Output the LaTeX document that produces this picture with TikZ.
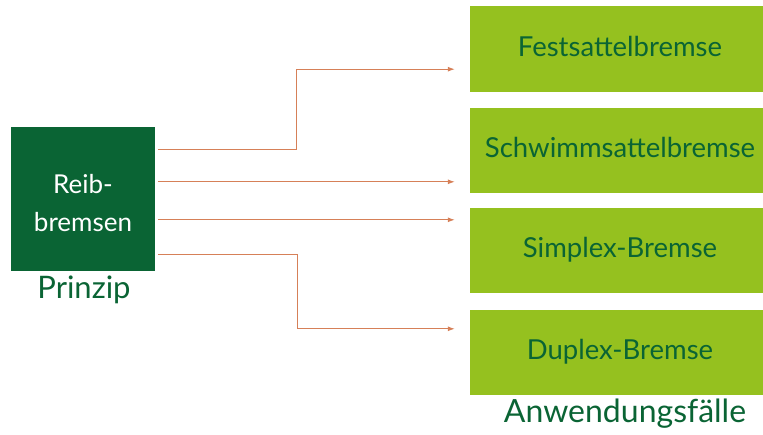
\documentclass[tikz,border=0pt]{standalone}
\usepackage{fontspec}
\setmainfont{Lato}
\usetikzlibrary{arrows.meta,calc}
\definecolor{dgreen}{RGB}{10,100,52}
\definecolor{lime}{RGB}{149,193,31}
\definecolor{arrc}{RGB}{214,128,88}
\tikzset{
  leftbox/.style={fill=dgreen,minimum width=144pt,minimum height=144pt,inner sep=0pt},
  lefttext/.style={text=white,align=center,inner sep=0pt,font=\fontsize{26}{38}\selectfont},
  appbox/.style={fill=lime,text=dgreen,minimum width=300pt,inner sep=0pt,text height=20pt,text depth=6pt,font=\fontsize{27.5}{30}\selectfont},
  caption/.style={text=dgreen,inner sep=0pt},
  arr/.style={draw=arrc,line width=1pt,-{Latex[length=7pt,width=5pt]}}
}
\begin{document}
\begin{tikzpicture}[x=1pt,y=-1pt]
\useasboundingbox (0,0) rectangle (763,434);
\begin{scope}
\clip (0,0) rectangle (763,434);
\node[leftbox] (L) at (83,199) {};
\node[lefttext] (Lt) at ($(L.center)+(0,4)$) {Reib-\\bremsen};
\node[caption,font=\fontsize{31}{34}\selectfont,anchor=base] (P) at (84,298) {Prinzip};
\node[appbox,minimum height=86pt] (B1) at (620,49) {Festsattelbremse};
\node[appbox,minimum height=85pt] (B2) at (620,150.5) {Schwimmsattelbremse};
\node[appbox,minimum height=85pt] (B3) at (620,250.5) {Simplex-Bremse};
\node[appbox,minimum height=85pt] (B4) at (620,352.5) {Duplex-Bremse};
\node[caption,font=\fontsize{32}{34}\selectfont,anchor=base] (A) at (625,422) {Anwendungsfälle};
\end{scope}
\coordinate (s1) at ($(L.north east)+(3,23)$);
\coordinate (s2) at ($(L.north east)+(3,55)$);
\coordinate (s3) at ($(L.north east)+(3,93)$);
\coordinate (s4) at ($(L.north east)+(3,128)$);
\coordinate (e1) at ($(B1.south west)+(-15,-23)$);
\coordinate (e2) at ($(B2.north west)+(-15,74)$);
\coordinate (e3) at ($(B3.north west)+(-15,12)$);
\coordinate (e4) at ($(B4.north west)+(-15,19)$);
\draw[arr] (s1) -- ++(138,0) |- (e1);
\draw[arr] (s2) -- (e2);
\draw[arr] (s3) -- (e3);
\draw[arr] (s4) -- ++(139,0) |- (e4);
\end{tikzpicture}
\end{document}
